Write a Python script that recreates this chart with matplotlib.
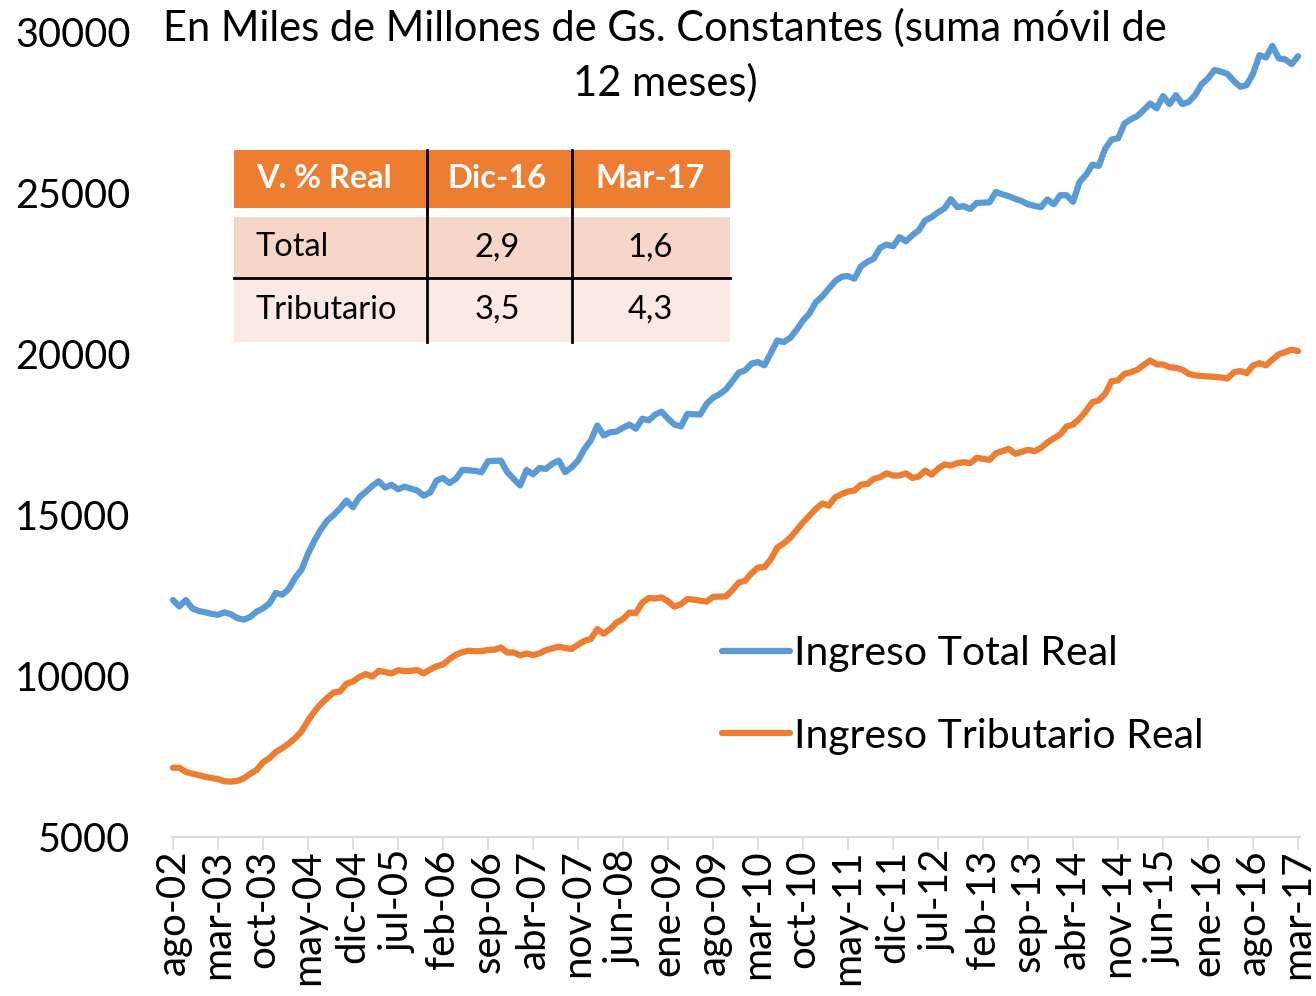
import matplotlib
matplotlib.use("Agg")
import matplotlib.pyplot as plt
from matplotlib.patches import Rectangle
from matplotlib.lines import Line2D

plt.rcParams['font.family'] = ['Lato', 'DejaVu Sans']

months = ["ene", "feb", "mar", "abr", "may", "jun", "jul", "ago", "sep", "oct", "nov", "dic"]
start_month, start_year, n_points = 7, 2002, 176  # ago-02 .. mar-17
tick_step = 7

ingreso_total = [
    12360, 12160, 12360, 12100, 12020, 11980, 11930, 11900, 11975, 11920,
    11800, 11750, 11830, 12000, 12100, 12250, 12580, 12525, 12700, 13050,
    13300, 13800, 14200, 14550, 14830, 15000, 15210, 15450, 15240, 15560,
    15720, 15900, 16050, 15850, 15940, 15800, 15880, 15820, 15760, 15600,
    15700, 16070, 16150, 15990, 16120, 16400, 16390, 16370, 16330, 16670,
    16680, 16690, 16330, 16120, 15920, 16400, 16260, 16460, 16430, 16590,
    16690, 16330, 16480, 16690, 17050, 17320, 17780, 17470, 17570, 17590,
    17710, 17810, 17680, 17990, 17940, 18120, 18210, 17990, 17810, 17750,
    18140, 18130, 18120, 18450, 18640, 18750, 18900, 19150, 19420, 19490,
    19700, 19750, 19650, 20030, 20420, 20370, 20500, 20750, 21040, 21260,
    21610, 21790, 22030, 22260, 22400, 22420, 22340, 22720, 22860, 22960,
    23300, 23400, 23345, 23630, 23500, 23690, 23840, 24150, 24250, 24400,
    24520, 24810, 24560, 24590, 24500, 24690, 24700, 24710, 25030, 24960,
    24900, 24820, 24750, 24650, 24600, 24560, 24800, 24650, 24930, 24930,
    24725, 25340, 25560, 25880, 25840, 26380, 26660, 26700, 27160, 27290,
    27390, 27580, 27780, 27630, 28010, 27760, 28040, 27760, 27830, 28040,
    28380, 28560, 28820, 28770, 28700, 28480, 28300, 28350, 28710, 29280,
    29210, 29570, 29180, 29150, 29000, 29250,
]

ingreso_tributario = [
    7150, 7150, 7020, 6970, 6920, 6870, 6830, 6800, 6730, 6720,
    6740, 6820, 6960, 7080, 7320, 7450, 7640, 7760, 7900, 8070,
    8280, 8610, 8900, 9130, 9320, 9490, 9520, 9760, 9830, 9970,
    10060, 9980, 10160, 10120, 10080, 10180, 10150, 10160, 10185, 10080,
    10200, 10300, 10360, 10520, 10660, 10740, 10785, 10770, 10770, 10810,
    10815, 10885, 10730, 10730, 10640, 10700, 10650, 10700, 10800, 10860,
    10910, 10870, 10840, 10970, 11090, 11150, 11460, 11310, 11460, 11660,
    11770, 11970, 11950, 12280, 12420, 12410, 12440, 12320, 12150, 12230,
    12390, 12370, 12340, 12310, 12460, 12465, 12470, 12670, 12900, 12960,
    13190, 13370, 13380, 13630, 13990, 14120, 14290, 14530, 14770, 14980,
    15190, 15360, 15290, 15550, 15650, 15730, 15760, 15940, 15965, 16120,
    16175, 16295, 16225, 16225, 16295, 16150, 16195, 16380, 16255, 16435,
    16570, 16535, 16610, 16640, 16610, 16775, 16745, 16710, 16920, 16980,
    17055, 16900, 16960, 17025, 16980, 17085, 17250, 17380, 17500, 17750,
    17810, 17990, 18225, 18500, 18560, 18765, 19155, 19180, 19385, 19435,
    19510, 19660, 19800, 19675, 19675, 19590, 19570, 19510, 19385, 19335,
    19315, 19305, 19290, 19270, 19240, 19430, 19470, 19405, 19645, 19715,
    19645, 19825, 19990, 20060, 20135, 20090,
]

series_labels = ["Ingreso Total Real", "Ingreso Tributario Real"]
series_colors = ["#5B9BD5", "#ED7D31"]

y_ticks = [5000, 10000, 15000, 20000, 25000, 30000]

title_lines = ["En Miles de Millones de Gs. Constantes (suma móvil de", "12 meses)"]

table_header = ["V. % Real", "Dic-16", "Mar-17"]
table_rows = [["Total", "2,9", "1,6"], ["Tributario", "3,5", "4,3"]]

# ---------------------------------------------------------------
W, H = 1316, 996
fig = plt.figure(figsize=(W / 100, H / 100), dpi=100)


def fx(px):
    return px / W


def fy(py):
    return 1 - py / H


ax_left, ax_right, ax_top, ax_bottom = 172, 1300, 32, 837
ax = fig.add_axes([fx(ax_left), fy(ax_bottom), (ax_right - ax_left) / W, (ax_bottom - ax_top) / H])

x = list(range(n_points))
labels = []
for i in range(n_points):
    m = (start_month + i) % 12
    yr = (start_year + (start_month + i) // 12) % 100
    labels.append(f"{months[m]}-{yr:02d}")

for vals, lab, col in zip([ingreso_total, ingreso_tributario], series_labels, series_colors):
    ax.plot(x, vals, color=col, lw=4.5, label=lab, solid_capstyle='round',
            solid_joinstyle='round', clip_on=False)

ax.set_xlim(-0.15, 175.3)
ax.set_ylim(5000, 30000)
ax.set_yticks(y_ticks)
ax.set_yticklabels([str(v) for v in y_ticks], fontsize=28.5)
tick_pos = list(range(0, n_points, tick_step))
ax.set_xticks(tick_pos)
ax.set_xticklabels([labels[i] for i in tick_pos], rotation=90, fontsize=29)

for s in ["left", "right", "top"]:
    ax.spines[s].set_visible(False)
ax.spines["bottom"].set_color("#D9D9D9")
ax.spines["bottom"].set_linewidth(1.5)
ax.tick_params(axis="y", length=0, pad=30)
ax.tick_params(axis="x", length=9, width=1.2, color="#D9D9D9", pad=0)

# Title
fig.text(fx(665), fy(28), title_lines[0], ha="center", va="center", fontsize=30)
fig.text(fx(665), fy(83), title_lines[1], ha="center", va="center", fontsize=30)

# Legend
leg = ax.legend(loc="center left", bbox_to_anchor=(fx(722), fy(695)), bbox_transform=fig.transFigure,
                frameon=False, fontsize=29.5, handlelength=1.66, handletextpad=0.1,
                labelspacing=1.1, borderpad=0, borderaxespad=0)

# Table
tx0, tx1 = 234, 730
cols_x = [234, 427, 572, 730]
hdr_y0, hdr_y1 = 150, 208
r1_y0, r1_y1 = 217, 278
r2_y0, r2_y1 = 278, 342
fig.add_artist(Rectangle((fx(tx0), fy(hdr_y1)), (tx1 - tx0) / W, (hdr_y1 - hdr_y0) / H,
                         transform=fig.transFigure, facecolor="#ED7D31", edgecolor="none"))
fig.add_artist(Rectangle((fx(tx0), fy(r1_y1)), (tx1 - tx0) / W, (r1_y1 - r1_y0) / H,
                         transform=fig.transFigure, facecolor="#F7D6CA", edgecolor="none"))
fig.add_artist(Rectangle((fx(tx0), fy(r2_y1)), (tx1 - tx0) / W, (r2_y1 - r2_y0) / H,
                         transform=fig.transFigure, facecolor="#FBEAE4", edgecolor="none"))
for cx in cols_x[1:3]:
    fig.add_artist(Line2D([fx(cx), fx(cx)], [fy(hdr_y0), fy(r2_y1)], transform=fig.transFigure,
                          color="black", lw=2))
fig.add_artist(Line2D([fx(tx0), fx(tx1)], [fy(r1_y1), fy(r1_y1)], transform=fig.transFigure,
                      color="black", lw=2))

row_centers = [(hdr_y0 + hdr_y1) / 2, (r1_y0 + r1_y1) / 2, (r2_y0 + r2_y1) / 2]
val_centers = [497, 650]
fig.text(fx(256), fy(row_centers[0]), table_header[0], ha="left", va="center", fontsize=23.5,
         fontweight="bold", color="white")
for j in range(2):
    fig.text(fx(val_centers[j]), fy(row_centers[0]), table_header[j + 1], ha="center", va="center",
             fontsize=23.5, fontweight="bold", color="white")
for r, row in enumerate(table_rows):
    fig.text(fx(256), fy(row_centers[r + 1]), row[0], ha="left", va="center", fontsize=23.5)
    for j in range(2):
        fig.text(fx(val_centers[j]), fy(row_centers[r + 1]), row[j + 1], ha="center", va="center",
                 fontsize=23.5)

fig.savefig("out.png", dpi=100)
